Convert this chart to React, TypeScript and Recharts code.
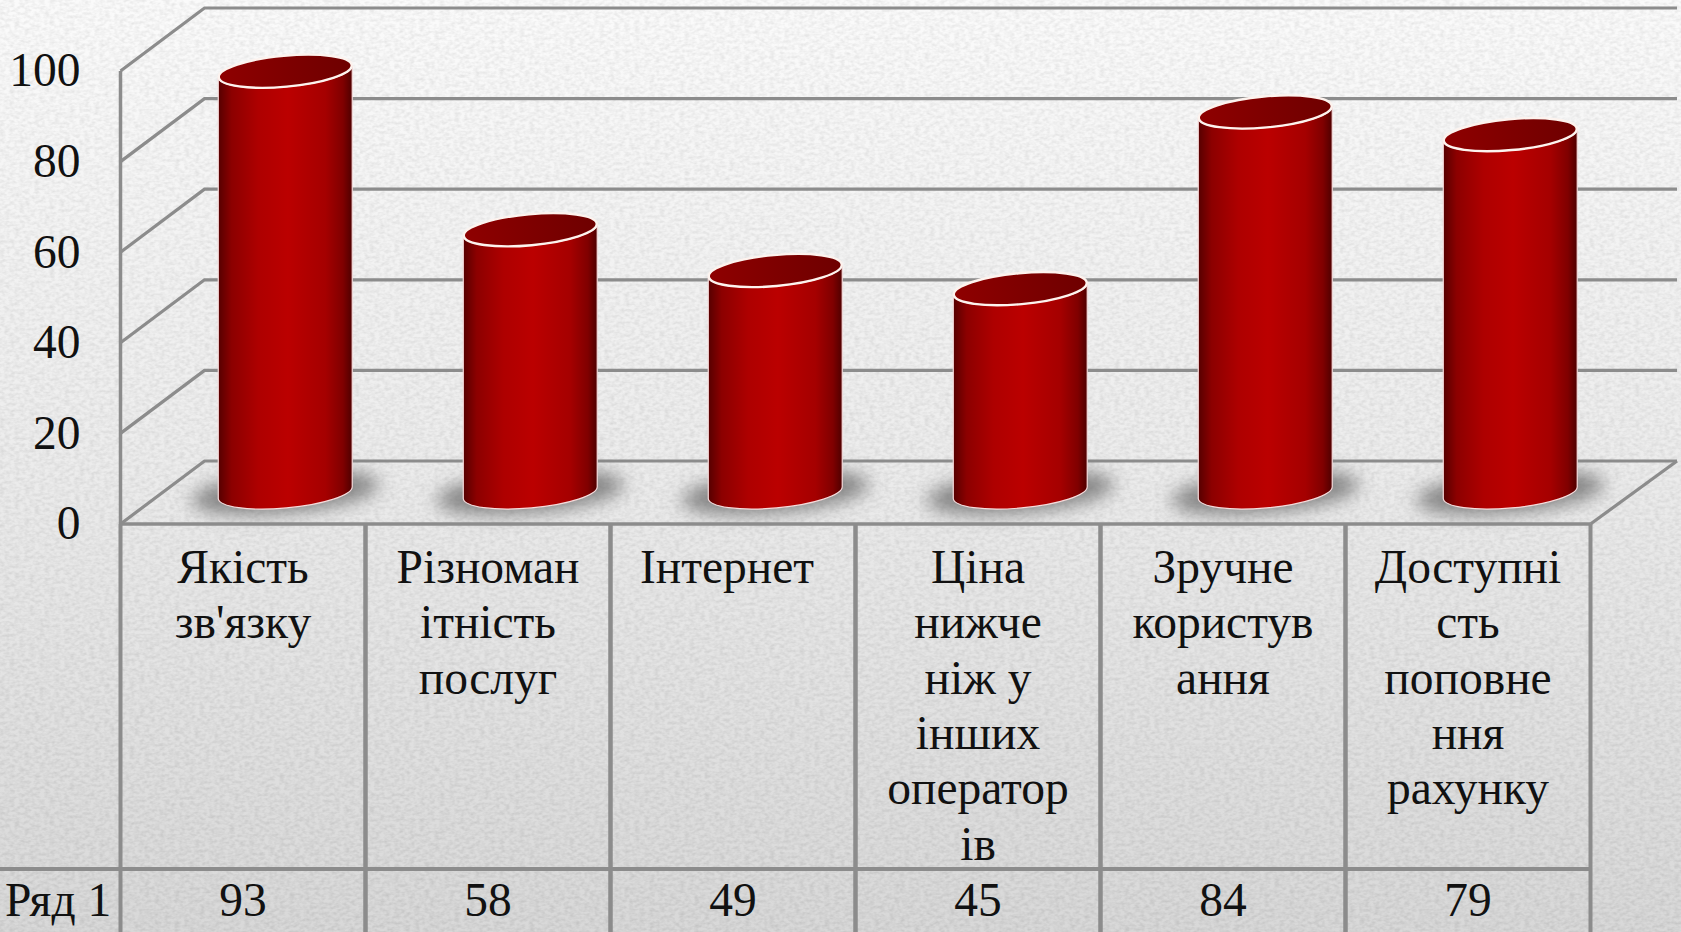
import { Bar, BarChart, CartesianGrid, XAxis, YAxis } from "recharts";

const categories = [
  ["Якість", "зв'язку"],
  ["Різноман", "ітність", "послуг"],
  ["Інтернет\u00a0"],
  ["Ціна", "нижче", "ніж у", "інших", "оператор", "ів"],
  ["Зручне", "користув", "ання"],
  ["Доступні", "сть", "поповне", "ння", "рахунку"],
];
const values = [93, 58, 49, 45, 84, 79];
const yTicks = [0, 20, 40, 60, 80, 100];
const seriesName = "Ряд 1";

const data = categories.map((lines, i) => ({ name: lines.join(" "), value: values[i] }));

const W = 1681;
const H = 932;
const PLOT_LEFT = 120.5;
const PLOT_RIGHT = 1590.5;
const PLOT_TOP = 71;
const PLOT_BOTTOM = 524;
const ROW_Y = 869;
const BAND = (PLOT_RIGHT - PLOT_LEFT) / categories.length;
// depth of the fake 3D box
const DEPTH_X = 84;
const DEPTH_Y = -63;
const WALL_RIGHT = 1677;
const LINE = "#8c8c8c";
const FONT = '"Liberation Serif", serif';
const INK = "#111111";
const FONT_SIZE = 47.5;

function WallLine({ y1 }: any) {
  const isFloor = Math.abs(y1 - PLOT_BOTTOM) < 1;
  const backY = y1 + DEPTH_Y;
  const backX = PLOT_LEFT + DEPTH_X;
  return (
    <g fill="none" stroke={LINE} strokeWidth={3.2}>
      <path d={`M${PLOT_LEFT},${y1} L${backX},${backY} L${WALL_RIGHT},${backY}`} />
      {isFloor && <path d={`M${PLOT_RIGHT},${y1} L${WALL_RIGHT},${backY}`} />}
    </g>
  );
}

function Cylinder({ x, y, width, height }: any) {
  const rx = width / 2;
  const ry = 15.5;
  const tilt = -5.2;
  const cx = x + rx + DEPTH_X / 2 + 0.5;
  const top = y + DEPTH_Y / 2;
  const base = y + height + DEPTH_Y / 2;
  const ex = rx * 0.996;
  const ey = rx * 0.09;
  const body =
    `M${cx - ex},${top + ey} L${cx - ex},${base + ey} ` +
    `A${rx},${ry} ${tilt} 0 0 ${cx + ex},${base - ey} ` +
    `L${cx + ex},${top - ey} A${rx},${ry} ${tilt} 0 1 ${cx - ex},${top + ey} Z`;
  return (
    <g>
      <ellipse
        cx={cx}
        cy={base}
        rx={rx + 27}
        ry={ry + 5}
        fill="#5e5e5e"
        fillOpacity={0.72}
        filter="url(#baseShadow)"
        transform={`rotate(${tilt} ${cx} ${base})`}
      />
      <path d={body} fill="url(#cylBody)" stroke="#f6dcdc" strokeWidth={1.2} />
      <ellipse
        cx={cx}
        cy={top}
        rx={rx - 0.5}
        ry={ry}
        fill="url(#cylTop)"
        stroke="#fdf3ee"
        strokeWidth={2.4}
        transform={`rotate(${tilt} ${cx} ${top})`}
      />
    </g>
  );
}

function TableTick({ x, payload, index }: any) {
  const i = payload?.index ?? index;
  const left = x - BAND / 2;
  const right = x + BAND / 2;
  return (
    <g>
      <path
        d={`M${left},${PLOT_BOTTOM} V${H} M${right},${PLOT_BOTTOM} V${H} M${left},${ROW_Y} H${right}`}
        stroke={LINE}
        strokeWidth={4}
        fill="none"
      />
      <text x={x} textAnchor="middle" fontFamily={FONT} fontSize={FONT_SIZE} fill={INK}>
        {categories[i].map((line, k) => (
          <tspan key={k} x={x} y={583 + k * 55.3}>
            {line}
          </tspan>
        ))}
      </text>
      <text x={x} y={916} textAnchor="middle" fontFamily={FONT} fontSize={FONT_SIZE} fill={INK}>
        {values[i]}
      </text>
      {i === 0 && (
        <g>
          <path d={`M0,${ROW_Y} H${left}`} stroke={LINE} strokeWidth={4} />
          <text x={5} y={916} fontFamily={FONT} fontSize={FONT_SIZE} fill={INK}>
            {seriesName}
          </text>
        </g>
      )}
    </g>
  );
}

function Paper() {
  return (
    <svg width={W} height={H} style={{ position: "absolute", left: 0, top: 0 }}>
      <defs>
        <linearGradient id="paperFade" x1="0" y1="0" x2="0" y2="1">
          <stop offset="0" stopColor="#fafafa" />
          <stop offset="0.5" stopColor="#eaeaea" />
          <stop offset="1" stopColor="#d4d4d4" />
        </linearGradient>
        <filter id="paperNoise" x="0" y="0" width="100%" height="100%" colorInterpolationFilters="sRGB">
          <feTurbulence type="fractalNoise" baseFrequency="0.2 0.32" numOctaves={2} seed={4} />
          <feColorMatrix values="1.6 0 0 0 -0.05 1.6 0 0 0 -0.05 1.6 0 0 0 -0.05 0 0 0 0 0.09" />
        </filter>
      </defs>
      <rect width={W} height={H} fill="url(#paperFade)" />
      <rect width={W} height={H} filter="url(#paperNoise)" />
    </svg>
  );
}

export default function App() {
  return (
    <div style={{ position: "fixed", left: 0, top: 0, width: W, height: H, overflow: "hidden" }}>
      <Paper />
      <div style={{ position: "absolute", left: 0, top: 0 }}>
        <BarChart
          width={W}
          height={H}
          data={data}
          margin={{ top: PLOT_TOP, right: W - PLOT_RIGHT, bottom: 0, left: 0 }}
        >
          <defs>
            <linearGradient id="cylBody" x1="0" y1="0" x2="1" y2="0">
              <stop offset="0" stopColor="#560000" />
              <stop offset="0.1" stopColor="#8c0000" />
              <stop offset="0.3" stopColor="#ae0000" />
              <stop offset="0.52" stopColor="#bb0000" />
              <stop offset="0.8" stopColor="#a50000" />
              <stop offset="0.93" stopColor="#800000" />
              <stop offset="1" stopColor="#4e0000" />
            </linearGradient>
            <linearGradient id="cylTop" x1="0" y1="0" x2="1" y2="0">
              <stop offset="0" stopColor="#8f0000" />
              <stop offset="1" stopColor="#6e0000" />
            </linearGradient>
            <filter id="baseShadow" x="-30%" y="-100%" width="160%" height="300%">
              <feGaussianBlur stdDeviation="9" />
            </filter>
          </defs>
          <CartesianGrid vertical={false} horizontal={(props: any) => <WallLine key={props.y1} {...props} />} />
          <XAxis
            dataKey="name"
            height={H - PLOT_BOTTOM}
            interval={0}
            tickLine={false}
            axisLine={{ stroke: LINE, strokeWidth: 3.5 }}
            tick={<TableTick />}
          />
          <YAxis
            type="number"
            domain={[0, 100]}
            ticks={yTicks}
            interval={0}
            width={PLOT_LEFT}
            tickLine={false}
            tickMargin={34}
            axisLine={{ stroke: LINE, strokeWidth: 3.5 }}
            tick={{ fontSize: FONT_SIZE, fill: INK, fontFamily: FONT, dy: -1.5 }}
          />
          <Bar dataKey="value" barSize={134.5} shape={<Cylinder />} isAnimationActive={false} />
        </BarChart>
      </div>
    </div>
  );
}
